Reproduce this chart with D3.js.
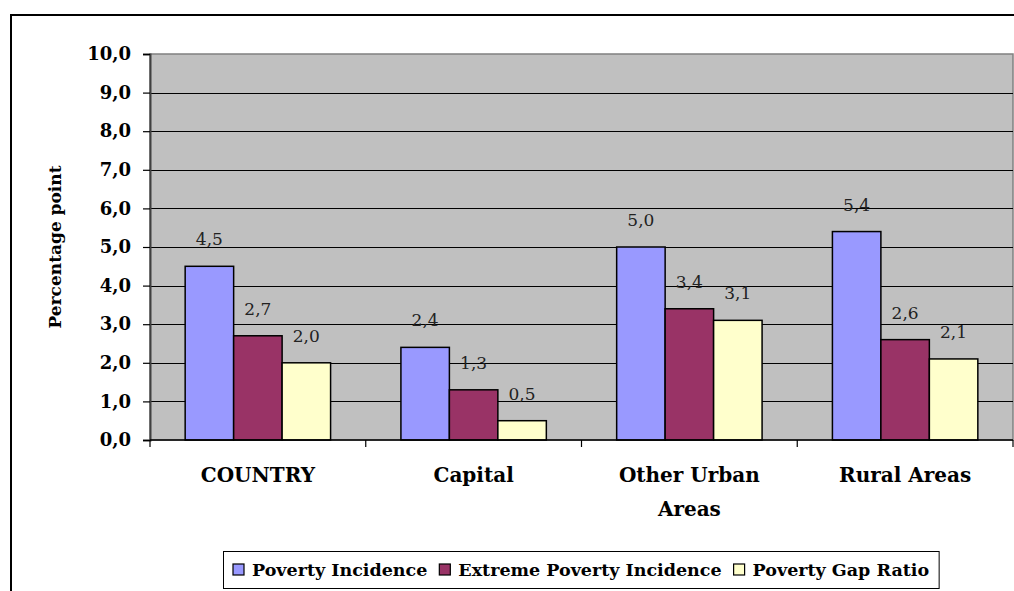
<!DOCTYPE html>
<html>
<head>
<meta charset="utf-8">
<script src="https://cdn.jsdelivr.net/npm/d3@7"></script>
<style>
  html, body { margin: 0; padding: 0; background: #fff; }
  svg { display: block; }
  text { font-family: "DejaVu Serif", serif; fill: #000; }
</style>
</head>
<body>
<svg id="chart" width="1014" height="591"></svg>
<script>
const categories = ["COUNTRY", "Capital", "Other Urban Areas", "Rural Areas"];
const seriesNames = ["Poverty Incidence", "Extreme Poverty Incidence", "Poverty Gap Ratio"];
const povertyIncidence = [4.5, 2.4, 5.0, 5.4];
const extremePovertyIncidence = [2.7, 1.3, 3.4, 2.6];
const povertyGapRatio = [2.0, 0.5, 3.1, 2.1];
const yTicks = [0, 1, 2, 3, 4, 5, 6, 7, 8, 9, 10];
const yTitle = "Percentage point";

const seriesValues = [povertyIncidence, extremePovertyIncidence, povertyGapRatio];
const colors = ["#9999FF", "#993366", "#FFFFCC"];

const svg = d3.select("#chart");
const plot = { left: 150, right: 1013, top: 54, bottom: 440 };
const fmt = v => d3.format(".1f")(v).replace(".", ",");

// outer chart border
svg.append("path")
  .attr("d", `M11,591 L11,15 L1014,15`)
  .attr("fill", "none").attr("stroke", "#000").attr("stroke-width", 2);

const y = d3.scaleLinear().domain([0, 10]).range([plot.bottom, plot.top]);
const x0 = d3.scaleBand().domain(categories).range([plot.left, plot.right])
  .paddingInner(0.326).paddingOuter(0.163);
const x1 = d3.scaleBand().domain(seriesNames).range([0, x0.bandwidth()]).padding(0);

// plot background
svg.append("rect")
  .attr("x", plot.left).attr("y", plot.top)
  .attr("width", plot.right - plot.left).attr("height", plot.bottom - plot.top)
  .attr("fill", "#C0C0C0").attr("stroke", "#808080").attr("stroke-width", 1.5);

// gridlines
svg.append("g").selectAll("line")
  .data(yTicks.filter(t => t > 0 && t < 10))
  .join("line")
  .attr("x1", plot.left).attr("x2", plot.right)
  .attr("y1", d => Math.round(y(d)) + 0.5).attr("y2", d => Math.round(y(d)) + 0.5)
  .attr("stroke", "#000").attr("stroke-width", 1);

// bars
const groups = svg.append("g").selectAll("g")
  .data(categories)
  .join("g")
  .attr("transform", c => `translate(${x0(c)},0)`);

groups.selectAll("rect")
  .data((c, i) => seriesNames.map((s, j) => ({ s, v: seriesValues[j][i], j })))
  .join("rect")
  .attr("x", d => x1(d.s))
  .attr("y", d => y(d.v))
  .attr("width", x1.bandwidth())
  .attr("height", d => y(0) - y(d.v))
  .attr("fill", d => colors[d.j])
  .attr("stroke", "#000").attr("stroke-width", 1.5);

groups.selectAll("text.val")
  .data((c, i) => seriesNames.map((s, j) => ({ s, v: seriesValues[j][i], j })))
  .join("text")
  .attr("class", "val")
  .attr("x", d => x1(d.s) + x1.bandwidth() / 2)
  .attr("y", d => y(d.v) - 21)
  .attr("text-anchor", "middle")
  .style("font-size", "17px")
  .style("fill", "#222")
  .text(d => fmt(d.v));

// y axis
const yAxis = svg.append("g")
  .attr("transform", `translate(${plot.left},0)`)
  .call(d3.axisLeft(y).tickValues(yTicks).tickFormat(fmt).tickSize(7).tickPadding(12));
yAxis.select(".domain").attr("stroke", "#404040").attr("stroke-width", 2);
yAxis.selectAll(".tick line").attr("stroke", "#000").attr("stroke-width", 1.2);
yAxis.selectAll(".tick text")
  .style("font-family", "DejaVu Serif, serif")
  .style("font-size", "18px").style("font-weight", "bold").attr("fill", "#000");

// x axis line and ticks at category boundaries
svg.append("line")
  .attr("x1", plot.left).attr("x2", plot.right)
  .attr("y1", plot.bottom).attr("y2", plot.bottom)
  .attr("stroke", "#000").attr("stroke-width", 1.5);
const step = x0.step();
const boundaries = categories.map(c => x0(c) - x0.paddingOuter() * step).concat([plot.right]);
svg.append("g").selectAll("line")
  .data(boundaries)
  .join("line")
  .attr("x1", d => d).attr("x2", d => d)
  .attr("y1", plot.bottom).attr("y2", plot.bottom + 7)
  .attr("stroke", "#000").attr("stroke-width", 1.2);

// category labels with wrapping
const catG = svg.append("g");
categories.forEach(c => {
  const cx = x0(c) + x0.bandwidth() / 2;
  const t = catG.append("text")
    .attr("x", cx).attr("y", 482)
    .attr("text-anchor", "middle")
    .style("font-size", "20px").style("font-weight", "bold");
  const words = c.split(" ");
  let line = [];
  let tspan = t.append("tspan").attr("x", cx).attr("dy", 0);
  words.forEach(w => {
    line.push(w);
    tspan.text(line.join(" "));
    if (tspan.node().getComputedTextLength() > 170 && line.length > 1) {
      line.pop();
      tspan.text(line.join(" "));
      line = [w];
      tspan = t.append("tspan").attr("x", cx).attr("dy", 34).text(w);
    }
  });
});

// y title
svg.append("text")
  .attr("transform", `translate(61,247) rotate(-90)`)
  .attr("text-anchor", "middle")
  .style("font-size", "17px").style("font-weight", "bold")
  .text(yTitle);

// legend
const legend = svg.append("g");
const legendBox = legend.append("rect")
  .attr("x", 223.5).attr("y", 551.5).attr("height", 37)
  .attr("fill", "#fff").attr("stroke", "#000").attr("stroke-width", 1);
let lx = 233;
seriesNames.forEach((s, j) => {
  legend.append("rect")
    .attr("x", lx).attr("y", 564).attr("width", 11).attr("height", 11)
    .attr("fill", colors[j]).attr("stroke", "#000").attr("stroke-width", 1.2);
  const t = legend.append("text")
    .attr("x", lx + 19).attr("y", 576)
    .style("font-size", "17.5px").style("font-weight", "bold")
    .text(s);
  lx += 19 + t.node().getComputedTextLength() + 12;
});
legendBox.attr("width", lx - 223.5 - 2);
</script>
</body>
</html>
